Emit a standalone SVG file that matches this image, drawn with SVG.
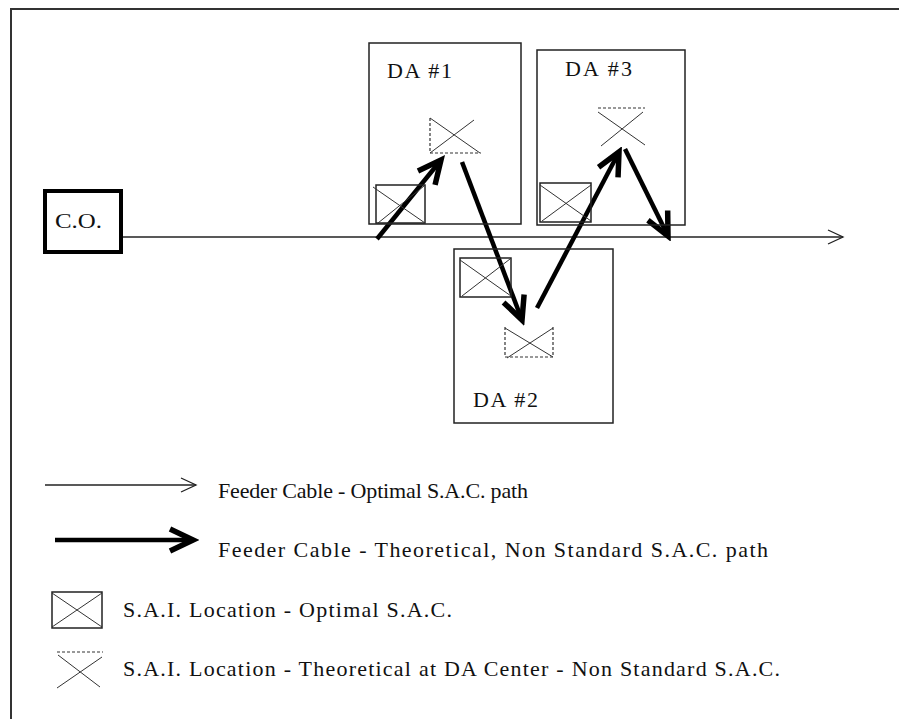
<svg xmlns="http://www.w3.org/2000/svg" width="899" height="719" viewBox="0 0 899 719">
<style>
  .frame{fill:none;stroke:#333;stroke-width:2}
  .box{fill:none;stroke:#222;stroke-width:1.5}
  .thin{fill:none;stroke:#222;stroke-width:1.5}
  .xl{fill:none;stroke:#333;stroke-width:1}
  .dash{fill:none;stroke:#333;stroke-width:1.2;stroke-dasharray:3,2}
  .thick{fill:none;stroke:#000;stroke-width:4.5}
  .t{font-family:"Liberation Serif","Times New Roman",serif;font-size:22px;fill:#111}
</style>
<defs>
  <marker id="thinHead" markerUnits="userSpaceOnUse" viewBox="-16 -10 20 20" refX="0" refY="0" markerWidth="20" markerHeight="20" orient="auto">
    <path d="M-15,-7 L0,0 L-15,7" fill="none" stroke="#222" stroke-width="1.3"/>
  </marker>
  <marker id="thickHead" markerUnits="userSpaceOnUse" viewBox="-30 -16 36 32" refX="0" refY="0" markerWidth="36" markerHeight="32" orient="auto">
    <path d="M-23,-11 L0,0 L-23,11" fill="none" stroke="#000" stroke-width="5.5" stroke-linejoin="miter"/>
  </marker>
</defs>
<rect x="0" y="0" width="899" height="719" fill="#fff"/>
<path class="frame" d="M11,719 L11,9 L899,9"/>

<g id="connectors">
  <line class="thin" x1="121" y1="237" x2="843" y2="237" marker-end="url(#thinHead)"/>
  <line class="thick" x1="377" y1="239" x2="441" y2="160" marker-end="url(#thickHead)"/>
  <line class="thick" x1="462" y1="162" x2="522" y2="320" marker-end="url(#thickHead)"/>
  <line class="thick" x1="537" y1="308" x2="619" y2="152" marker-end="url(#thickHead)"/>
  <line class="thick" x1="625" y1="149" x2="668" y2="236" marker-end="url(#thickHead)"/>
</g>

<g id="co">
  <rect x="45" y="191" width="76" height="61" fill="#fff" stroke="#000" stroke-width="4"/>
  <text class="t" x="55" y="228" textLength="47" lengthAdjust="spacingAndGlyphs">C.O.</text>
</g>

<g id="da1">
  <rect class="box" x="369" y="43" width="152" height="181"/>
  <text class="t" x="387" y="78" textLength="65" lengthAdjust="spacing">DA #1</text>
  <g id="sai-opt-1">
    <rect class="box" x="376" y="185" width="49" height="38"/>
    <line class="xl" x1="373" y1="187" x2="425" y2="223"/>
    <line class="xl" x1="424" y1="186" x2="378" y2="223"/>
  </g>
  <g id="sai-th-1">
    <path class="dash" d="M430,118 L430,153 L481,153"/>
    <line class="xl" x1="430" y1="118" x2="480" y2="153"/>
    <line class="xl" x1="474" y1="120" x2="430" y2="153"/>
  </g>
</g>

<g id="da3">
  <rect class="box" x="537" y="50" width="148" height="175"/>
  <text class="t" x="565" y="76" textLength="67" lengthAdjust="spacing">DA #3</text>
  <g id="sai-opt-3">
    <rect class="box" x="540" y="183" width="51" height="39"/>
    <line class="xl" x1="540" y1="185" x2="591" y2="221"/>
    <line class="xl" x1="591" y1="185" x2="542" y2="221"/>
  </g>
  <g id="sai-th-3">
    <line class="dash" x1="598" y1="108" x2="645" y2="108"/>
    <line class="xl" x1="598" y1="112" x2="645" y2="145"/>
    <line class="xl" x1="643" y1="112" x2="601" y2="146"/>
  </g>
</g>

<g id="da2">
  <rect class="box" x="454" y="249" width="159" height="174"/>
  <text class="t" x="473" y="407" textLength="65" lengthAdjust="spacing">DA #2</text>
  <g id="sai-opt-2">
    <rect class="box" x="460" y="258" width="51" height="39"/>
    <line class="xl" x1="460" y1="260" x2="511" y2="296"/>
    <line class="xl" x1="510" y1="259" x2="462" y2="296"/>
  </g>
  <g id="sai-th-2">
    <path class="dash" d="M505,327 L505,357 L553,357 L553,326"/>
    <line class="xl" x1="505" y1="328" x2="553" y2="357"/>
    <line class="xl" x1="553" y1="328" x2="507" y2="358"/>
  </g>
</g>

<g id="legend">
  <line class="thin" x1="45" y1="485" x2="196" y2="485" marker-end="url(#thinHead)"/>
  <text class="t" x="218" y="498" textLength="310" lengthAdjust="spacing">Feeder Cable - Optimal S.A.C. path</text>
  <line class="thick" x1="55" y1="540" x2="193" y2="540" marker-end="url(#thickHead)"/>
  <text class="t" x="218" y="557" textLength="550" lengthAdjust="spacing">Feeder Cable - Theoretical, Non Standard S.A.C. path</text>
  <rect class="box" x="52" y="592" width="50" height="36"/>
  <line class="xl" x1="52" y1="593" x2="102" y2="627"/>
  <line class="xl" x1="102" y1="593" x2="52" y2="627"/>
  <text class="t" x="123" y="617" textLength="329" lengthAdjust="spacing">S.A.I. Location - Optimal S.A.C.</text>
  <line class="dash" x1="57" y1="652" x2="103" y2="652"/>
  <line class="xl" x1="58" y1="655" x2="100" y2="687"/>
  <line class="xl" x1="102" y1="657" x2="57" y2="688"/>
  <text class="t" x="123" y="676" textLength="657" lengthAdjust="spacing">S.A.I. Location - Theoretical at DA Center - Non Standard S.A.C.</text>
</g>
</svg>
